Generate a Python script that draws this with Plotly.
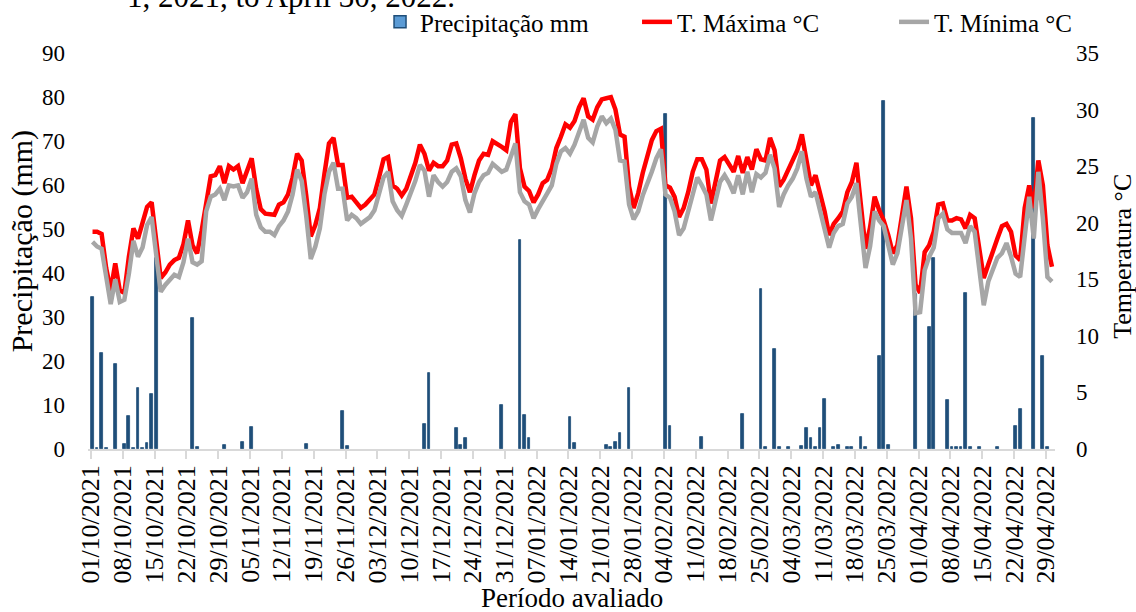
import pandas as pd
import plotly.graph_objects as go
from plotly.subplots import make_subplots

# ---------------- data ----------------
start_date = "2021-10-01"
end_date = "2022-04-30"

# daily maximum temperature (°C), 01/10/2021 .. 30/04/2022
t_max = [
    19.2, 19.2, 19.0, 16.0, 14.0, 16.4, 14.0, 13.8, 17.0, 19.5,
    18.6, 20.2, 21.4, 21.8, 18.5, 15.1, 15.6, 16.3, 16.7, 16.9,
    18.1, 20.2, 18.0, 17.3, 19.3, 22.0, 24.1, 24.2, 25.0, 23.5,
    25.0, 24.7, 25.0, 23.5, 24.7, 25.7, 23.0, 21.2, 20.8, 20.7,
    20.7, 21.6, 21.8, 22.5, 24.0, 26.1, 25.5, 22.4, 18.8, 19.8,
    21.3, 24.3, 27.0, 27.5, 25.1, 25.1, 22.2, 22.3, 21.8, 21.3,
    21.6, 22.0, 22.5, 24.0, 25.6, 25.8, 23.3, 23.0, 22.4, 23.0,
    24.2, 25.3, 26.9, 26.1, 24.6, 25.3, 25.0, 25.0, 25.5, 26.9,
    27.0, 25.7, 23.9, 22.7, 24.2, 25.5, 26.1, 26.0, 27.2, 27.0,
    26.7, 26.4, 28.9, 29.6, 24.8, 23.2, 22.8, 21.8, 22.5, 23.5,
    23.8, 24.8, 26.6, 27.6, 28.7, 28.4, 29.0, 30.2, 31.0, 29.4,
    29.1, 30.2, 30.9, 31.0, 31.1, 30.0, 27.8, 27.6, 23.2, 21.3,
    22.6, 24.4, 26.0, 27.3, 28.1, 28.3, 23.3, 23.1, 22.3, 20.5,
    21.3, 22.7, 24.5, 25.6, 25.6, 24.7, 21.7, 23.5, 25.5, 25.8,
    25.1, 24.5, 25.9, 24.4, 25.8, 24.7, 26.5, 25.6, 25.5, 27.5,
    26.4, 23.2, 23.8, 24.7, 25.5, 26.4, 27.8, 25.7, 23.3, 24.2,
    22.7, 21.0, 18.9, 19.9, 20.4, 21.0, 22.7, 23.6, 25.3, 21.7,
    17.7, 19.6, 22.3, 21.1, 20.2, 18.9, 17.3, 18.0, 20.8, 23.2,
    20.4, 14.5, 13.8, 17.4, 18.0, 19.2, 21.6, 21.7, 20.2, 20.2,
    20.4, 20.3, 19.5, 20.7, 20.4, 17.7, 15.1, 16.3, 17.6, 18.6,
    19.7, 19.9, 19.2, 17.1, 16.7, 21.3, 23.3, 21.3, 25.5, 23.3,
    18.0, 16.1,
]

# daily minimum temperature (°C)
t_min = [
    18.3, 17.9, 17.7, 15.0, 12.8, 15.0, 13.0, 13.2, 15.5, 18.4,
    17.0, 17.8, 19.8, 20.5, 17.0, 13.9, 14.5, 15.0, 15.4, 15.2,
    16.5, 18.6, 16.5, 16.3, 16.6, 21.0, 22.3, 22.5, 23.0, 22.0,
    23.3, 23.2, 23.3, 22.2, 22.7, 23.9, 20.7, 19.6, 19.2, 19.2,
    18.9, 19.7, 20.2, 21.0, 22.5, 24.7, 23.7, 20.6, 16.8, 17.9,
    19.5, 22.5, 24.5, 25.3, 23.0, 23.0, 20.2, 20.7, 20.4, 19.9,
    20.2, 20.5, 21.1, 22.5, 24.0, 24.5, 21.9, 21.1, 20.6, 21.6,
    22.6, 23.7, 25.1, 24.6, 22.3, 24.2, 23.6, 23.2, 23.6, 24.5,
    24.8, 24.1, 22.0, 20.9, 22.6, 23.6, 24.2, 24.4, 25.2, 24.8,
    24.5, 24.7, 25.8, 27.0, 22.7, 21.9, 21.6, 20.4, 21.2, 22.0,
    22.6, 23.3, 25.2, 26.3, 26.6, 26.1, 26.9, 28.0, 29.1, 27.5,
    27.1, 28.5, 29.4, 28.8, 29.2, 28.2, 25.5, 25.4, 21.6, 20.3,
    21.0, 22.4, 23.4, 24.5, 25.7, 26.5, 22.5, 22.2, 21.0, 18.9,
    19.5, 21.0, 22.7, 24.0, 23.3, 22.5, 20.2, 22.0, 23.6, 24.2,
    23.5, 22.6, 24.2, 22.5, 24.5, 22.7, 24.3, 24.0, 24.4, 26.0,
    24.8, 21.4, 22.5, 23.3, 23.9, 24.8, 26.3, 23.9, 22.3, 22.7,
    21.1, 19.2, 17.8, 19.1, 19.7, 19.9, 21.7, 22.3, 23.5, 19.7,
    16.0, 17.9, 21.0, 20.2, 19.7, 18.0, 16.3, 17.3, 19.8, 22.0,
    18.6, 12.0, 12.1, 15.8, 17.0, 17.8, 20.4, 20.8, 19.4, 19.1,
    19.1, 19.1, 18.2, 19.7, 19.2, 16.3, 12.7, 14.8, 16.0, 16.9,
    17.3, 18.2, 17.0, 15.5, 15.2, 18.9, 22.3, 18.6, 24.5, 20.4,
    15.2, 14.8,
]

# days with precipitation and amounts (mm)
rain_dates = [
    "2021-10-01", "2021-10-02", "2021-10-03", "2021-10-04", "2021-10-06",
    "2021-10-08", "2021-10-09", "2021-10-10", "2021-10-11", "2021-10-12",
    "2021-10-13", "2021-10-14", "2021-10-15", "2021-10-23", "2021-10-24",
    "2021-10-30", "2021-11-03", "2021-11-05", "2021-11-17", "2021-11-25",
    "2021-11-26", "2021-12-13", "2021-12-14", "2021-12-20", "2021-12-21",
    "2021-12-22", "2021-12-30", "2022-01-03", "2022-01-04", "2022-01-05",
    "2022-01-14", "2022-01-15", "2022-01-22", "2022-01-23", "2022-01-24",
    "2022-01-25", "2022-01-27", "2022-02-04", "2022-02-05", "2022-02-12",
    "2022-02-21", "2022-02-25", "2022-02-26", "2022-02-28", "2022-03-01",
    "2022-03-03", "2022-03-06", "2022-03-07", "2022-03-08", "2022-03-09",
    "2022-03-10", "2022-03-11", "2022-03-13", "2022-03-14", "2022-03-16",
    "2022-03-17", "2022-03-19", "2022-03-20", "2022-03-23", "2022-03-24",
    "2022-03-25", "2022-03-31", "2022-04-03", "2022-04-04", "2022-04-07",
    "2022-04-08", "2022-04-09", "2022-04-10", "2022-04-11", "2022-04-12",
    "2022-04-14", "2022-04-18", "2022-04-22", "2022-04-23", "2022-04-26",
    "2022-04-28", "2022-04-29",
]
rain_mm = [
    34.6, 0.3, 21.9, 0.3, 19.4,
    1.1, 7.5, 0.3, 13.9, 0.3,
    1.3, 12.4, 43.5, 29.8, 0.5,
    0.8, 1.5, 5.1, 1.1, 8.7,
    0.7, 5.7, 17.2, 4.7, 0.9,
    2.6, 10.0, 47.5, 7.7, 2.6,
    7.2, 1.3, 0.8, 0.5, 1.7,
    3.6, 13.9, 76.1, 5.3, 2.8,
    8.0, 36.4, 0.4, 22.7, 0.4,
    0.4, 0.7, 4.7, 2.6, 0.5,
    4.7, 11.3, 0.4, 0.8, 0.4,
    0.5, 2.8, 0.4, 21.1, 79.1,
    0.8, 35.3, 27.8, 43.5, 11.2,
    0.5, 0.4, 0.4, 35.5, 0.5,
    0.4, 0.4, 5.3, 9.2, 75.2,
    21.1, 0.4,
]

# ---------------- figure ----------------
FONT = "Liberation Serif, Times New Roman, serif"
DAY_MS = 86400000

days = pd.date_range(start_date, end_date, freq="D")
shift = pd.Timedelta(hours=8)
x_days = days + shift
x_rain = pd.to_datetime(rain_dates) + shift

fig = make_subplots(specs=[[{"secondary_y": True}]])

# precipitation bars (dark outline dominates thin bars)
fig.add_trace(
    go.Bar(
        x=x_rain, y=rain_mm, name="Precipitação mm",
        width=0.62 * DAY_MS, legendgroup="rain", showlegend=False,
        marker=dict(color="#1F4E79", line=dict(color="#1F4E79", width=0.8)),
    ),
    secondary_y=False,
)
# legend swatch for the precipitation series (light fill, dark border)
fig.add_trace(
    go.Bar(
        x=[None], y=[None], name="Precipitação mm", legendgroup="rain",
        marker=dict(color="#5B9BD5", line=dict(color="#1F4E79", width=1.5)),
    ),
    secondary_y=False,
)
fig.add_trace(
    go.Scatter(
        x=x_days, y=t_max, name="T. Máxima °C", mode="lines",
        line=dict(color="#FF0000", width=4.5),
    ),
    secondary_y=True,
)
fig.add_trace(
    go.Scatter(
        x=x_days, y=t_min, name="T. Mínima °C", mode="lines",
        line=dict(color="#A6A6A6", width=4.5),
    ),
    secondary_y=True,
)

fig.update_layout(
    width=1136, height=612, autosize=False,
    margin=dict(l=88, r=81, t=53, b=163, autoexpand=False),
    paper_bgcolor="white", plot_bgcolor="white",
    font=dict(family=FONT, color="black", size=23),
    bargap=0,
    legend=dict(
        orientation="h", x=0.302, xanchor="left", y=1.078, yanchor="middle",
        font=dict(family=FONT, size=25, color="black"),
        bgcolor="rgba(0,0,0,0)", entrywidth=212,
    ),
    showlegend=True,
)

fig.update_xaxes(
    type="date", domain=[0, 1],
    range=["2021-09-30 08:10", "2022-05-01 00:00"],
    tickmode="linear", tick0="2021-10-01", dtick=7 * DAY_MS,
    tickformat="%d/%m/%Y", tickangle=-90,
    ticks="outside", ticklen=8, tickwidth=1.5, tickcolor="#D9D9D9",
    ticklabelstandoff=-4,
    showline=True, linecolor="#D9D9D9", linewidth=1.5,
    showgrid=False, zeroline=False,
    tickfont=dict(family=FONT, size=26, color="black"),
)
fig.update_yaxes(
    range=[0, 90], dtick=10, tick0=0, showgrid=False, showline=False,
    zeroline=False, ticks="", ticklabelstandoff=22,
    tickfont=dict(family=FONT, size=23, color="black"),
    secondary_y=False,
)
fig.update_yaxes(
    range=[0, 35], dtick=5, tick0=0, showgrid=False, showline=False,
    zeroline=False, ticks="", ticklabelstandoff=20,
    tickfont=dict(family=FONT, size=23, color="black"),
    secondary_y=True,
)

annotations = [
    dict(text="Período avaliado", xref="paper", yref="paper",
         x=0.5005, y=-0.375, xanchor="center", yanchor="middle",
         showarrow=False, font=dict(family=FONT, size=27, color="black")),
    dict(text="Precipitação (mm)", xref="paper", yref="paper",
         x=-0.068, y=0.525, xanchor="center", yanchor="middle", textangle=-90,
         showarrow=False, font=dict(family=FONT, size=30, color="black")),
    dict(text="Temperatura °C", xref="paper", yref="paper",
         x=1.069, y=0.487, xanchor="center", yanchor="middle", textangle=-90,
         showarrow=False, font=dict(family=FONT, size=26, color="black")),
    dict(text="1, 2021, to April 30, 2022.", xref="paper", yref="paper",
         x=0.038, y=1, xanchor="left", yanchor="bottom", yshift=37,
         showarrow=False, font=dict(family=FONT, size=31, color="black")),
]
fig.update_layout(annotations=annotations)

fig.write_html(
    "out.html",
    config={"displayModeBar": False},
    post_script="document.body.style.margin='0px';",
)
